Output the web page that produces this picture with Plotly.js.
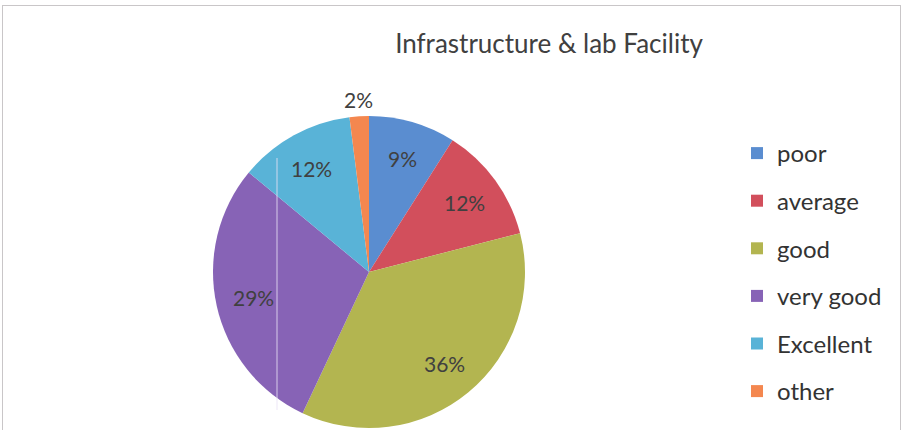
<!DOCTYPE html>
<html>
<head>
<meta charset="utf-8">
<script src="https://cdn.plot.ly/plotly-3.0.1.min.js"></script>
<style>
  html, body { margin: 0; padding: 0; background: #fff; }
  #wrap { position: relative; width: 905px; height: 430px; overflow: hidden; }
  #chart { width: 905px; height: 430px; }
  #frame { position: absolute; left: 2px; top: 5px; width: 897px; height: 440px;
           border: 1px solid #c9c6c8; pointer-events: none; }
</style>
</head>
<body>
<div id="wrap">
  <div id="chart"></div>
  <div id="frame"></div>
</div>
<script>
const categories = ["poor", "average", "good", "very good", "Excellent", "other"];
const values = [9, 12, 36, 29, 12, 2];
const colors = ["#5a8dd0", "#d24f5c", "#b3b550", "#8763b6", "#59b3d7", "#f4874f"];
const chartTitle = "Infrastructure & lab Facility";

const FONT = "Lato, 'Open Sans', sans-serif";
const W = 905, H = 430;
const cx = 369, cy = 272, R = 156;

const pie = {
  type: "pie",
  labels: categories,
  values: values,
  sort: false,
  direction: "clockwise",
  rotation: 0,
  marker: { colors: colors, line: { width: 0 } },
  textinfo: "none",
  showlegend: false,
  hoverinfo: "label+percent",
  domain: { x: [(cx - R) / W, (cx + R) / W], y: [(H - cy - R) / H, (H - cy + R) / H] }
};

// Data labels placed along each slice's mid-angle (computed from the values)
const total = values.reduce((a, b) => a + b, 0);
let cum = 0;
const labelAnnotations = values.map((v) => {
  const mid = (cum + v / 2) / total * 2 * Math.PI;
  cum += v;
  const frac = v / total < 0.05 ? 1.11 : 0.76;
  const px = cx + frac * R * Math.sin(mid);
  const py = cy - frac * R * Math.cos(mid);
  return {
    xref: "paper", yref: "paper",
    x: px / W, y: 1 - py / H,
    xanchor: "center", yanchor: "middle",
    showarrow: false,
    text: Math.round(v / total * 100) + "%",
    font: { family: FONT, size: 21, color: "#404040" }
  };
});

// Legend entries (one per category) so the legend spacing can match the reference
const legendTraces = categories.map((c, i) => ({
  type: "scatter",
  x: [null], y: [null],
  mode: "markers",
  name: c,
  legendgroup: c,
  marker: { symbol: "square", size: 12, color: colors[i] },
  hoverinfo: "skip"
}));

const layout = {
  width: W, height: H,
  margin: { l: 0, r: 0, t: 0, b: 0 },
  paper_bgcolor: "#ffffff",
  plot_bgcolor: "rgba(0,0,0,0)",
  title: {
    text: chartTitle,
    font: { family: FONT, size: 26, color: "#404040" },
    x: 549 / W, xanchor: "center",
    y: 1 - 44 / H, yanchor: "middle"
  },
  xaxis: { visible: false, range: [0, 1] },
  yaxis: { visible: false, range: [0, 1] },
  legend: {
    x: 737 / W, xanchor: "left",
    y: 1 - 131 / H, yanchor: "top",
    font: { family: FONT, size: 24, color: "#333333" },
    tracegroupgap: 13.4,
    itemwidth: 30,
    bgcolor: "rgba(0,0,0,0)"
  },
  annotations: labelAnnotations,
  shapes: [{
    type: "line", xref: "paper", yref: "paper",
    x0: 277 / W, x1: 277 / W, y0: 1 - 158 / H, y1: 1 - 410 / H,
    line: { color: "rgba(235,225,245,0.55)", width: 1.5 }
  }]
};

Plotly.newPlot("chart", [pie].concat(legendTraces), layout, { displayModeBar: false, staticPlot: true });
</script>
</body>
</html>
